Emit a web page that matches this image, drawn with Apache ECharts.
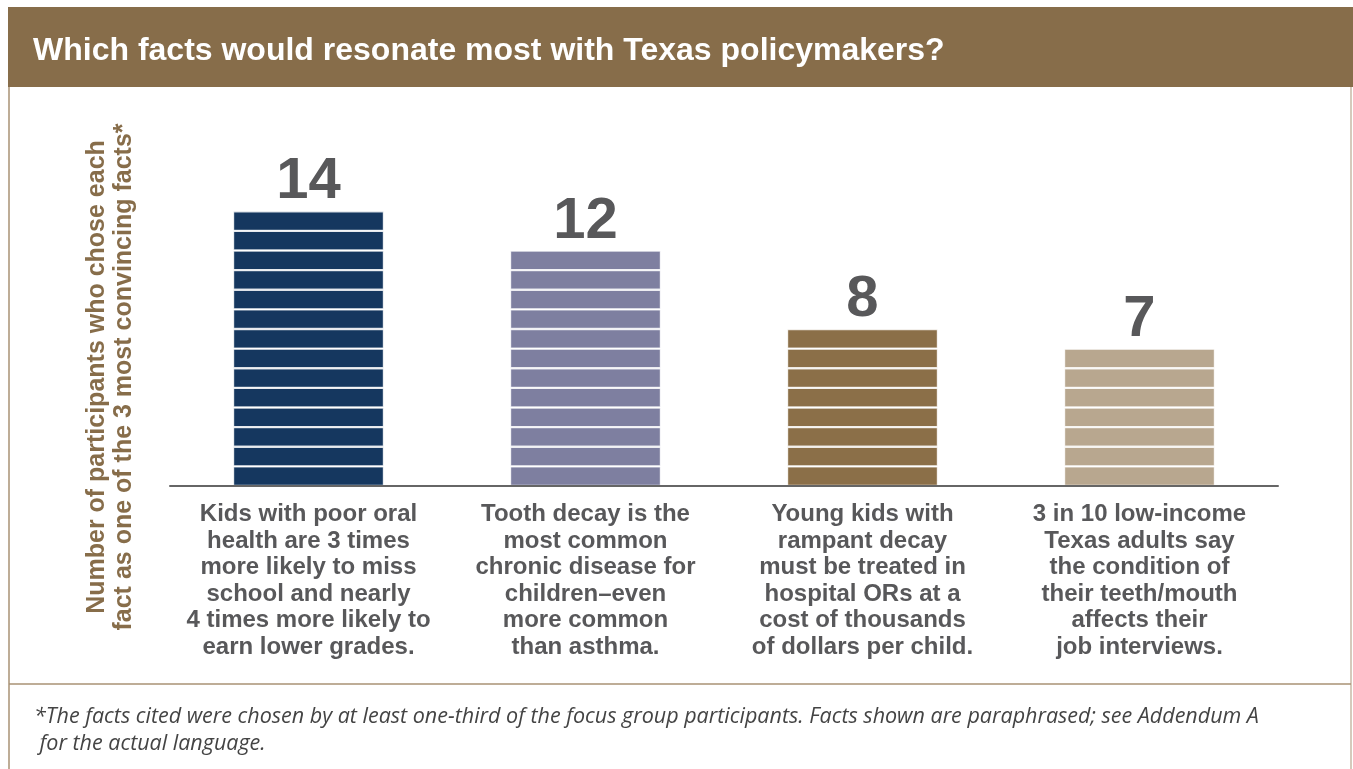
<!DOCTYPE html>
<html>
<head>
<meta charset="utf-8">
<style>
  html, body { margin: 0; padding: 0; background: #fff; }
  #chart { width: 1353px; height: 769px; }
</style>
<script src="https://cdn.jsdelivr.net/npm/echarts@6/dist/echarts.min.js"></script>
</head>
<body>
<div id="chart"></div>
<script>
// data
const categories = [
  'Kids with poor oral\nhealth are 3 times\nmore likely to miss\nschool and nearly\n4 times more likely to\nearn lower grades.',
  'Tooth decay is the\nmost common\nchronic disease for\nchildren\u2013even\nmore common\nthan asthma.',
  'Young kids with\nrampant decay\nmust be treated in\nhospital ORs at a\ncost of thousands\nof dollars per child.',
  '3 in 10 low-income\nTexas adults say\nthe condition of\ntheir teeth/mouth\naffects their\njob interviews.'
];
const counts = [14, 12, 8, 7];
const barColors = ['#15375f', '#7e7fa0', '#8b6f48', '#b8a78f'];

const brown = '#876d4a';
const sans = '"Liberation Sans", Arial, sans-serif';
const chart = echarts.init(document.getElementById('chart'));

// one stacked segment per participant, so the white stripes fall on whole units
const maxCount = Math.max(...counts);
const series = [];
for (let k = 0; k < maxCount; k++) {
  series.push({
    type: 'bar',
    stack: 'facts',
    barWidth: 151,
    itemStyle: { borderColor: 'rgba(255,255,255,0.8)', borderWidth: 1.2 },
    data: counts.map((v, i) => {
      if (v <= k) return '-';
      const item = { value: 1, itemStyle: { color: barColors[i] } };
      if (k === v - 1) {
        item.label = {
          show: true,
          position: 'top',
          distance: 0,
          formatter: String(v),
          fontFamily: sans,
          fontWeight: 'bold',
          fontSize: 58,
          color: '#58585a'
        };
      }
      return item;
    })
  });
}

const option = {
  animation: false,
  title: {
    text: 'Which facts would resonate most with Texas policymakers?',
    left: 28,
    top: 30,
    textStyle: {
      color: '#fff',
      fontFamily: sans,
      fontWeight: 'bold',
      fontSize: 32
    }
  },
  graphic: [
    { type: 'rect', z: -10, shape: { x: 8, y: 7, width: 1345, height: 80 }, style: { fill: brown } },
    { type: 'line', shape: { x1: 9, y1: 87, x2: 9, y2: 769 }, style: { stroke: '#a89274', lineWidth: 1.5 } },
    { type: 'line', shape: { x1: 1351, y1: 87, x2: 1351, y2: 769 }, style: { stroke: '#c7b9a6', lineWidth: 1.5 } },
    { type: 'line', shape: { x1: 9, y1: 684, x2: 1351, y2: 684 }, style: { stroke: '#a89274', lineWidth: 1.5 } },
    {
      type: 'text',
      x: 111,
      y: 377,
      rotation: Math.PI / 2,
      style: {
        text: 'Number of participants who chose each\nfact as one of the 3 most convincing facts*',
        fill: brown,
        fontFamily: sans,
        fontWeight: 'bold',
        fontSize: 25,
        lineHeight: 27,
        align: 'center',
        verticalAlign: 'middle'
      }
    },
    {
      type: 'text',
      left: 34,
      top: 703,
      style: {
        text: '*The facts cited were chosen by at least one-third of the focus group participants. Facts shown are paraphrased; see Addendum A\n for the actual language.',
        fill: '#444',
        fontFamily: '"Open Sans", Lato, sans-serif',
        fontStyle: 'italic',
        fontWeight: 'normal',
        fontSize: 21.5,
        lineHeight: 27
      }
    }
  ],
  grid: { left: 170, right: 75, top: 172, bottom: 283 },
  xAxis: {
    type: 'category',
    data: categories,
    z: 10,
    axisTick: { show: false },
    axisLine: { lineStyle: { color: '#666', width: 2 } },
    axisLabel: {
      interval: 0,
      margin: 15,
      color: '#58585a',
      fontFamily: sans,
      fontWeight: 'bold',
      fontSize: 24,
      lineHeight: 26.6
    }
  },
  yAxis: {
    type: 'value',
    min: 0,
    max: 16,
    interval: 2,
    show: false
  },
  series: series
};

chart.setOption(option);
</script>
</body>
</html>
